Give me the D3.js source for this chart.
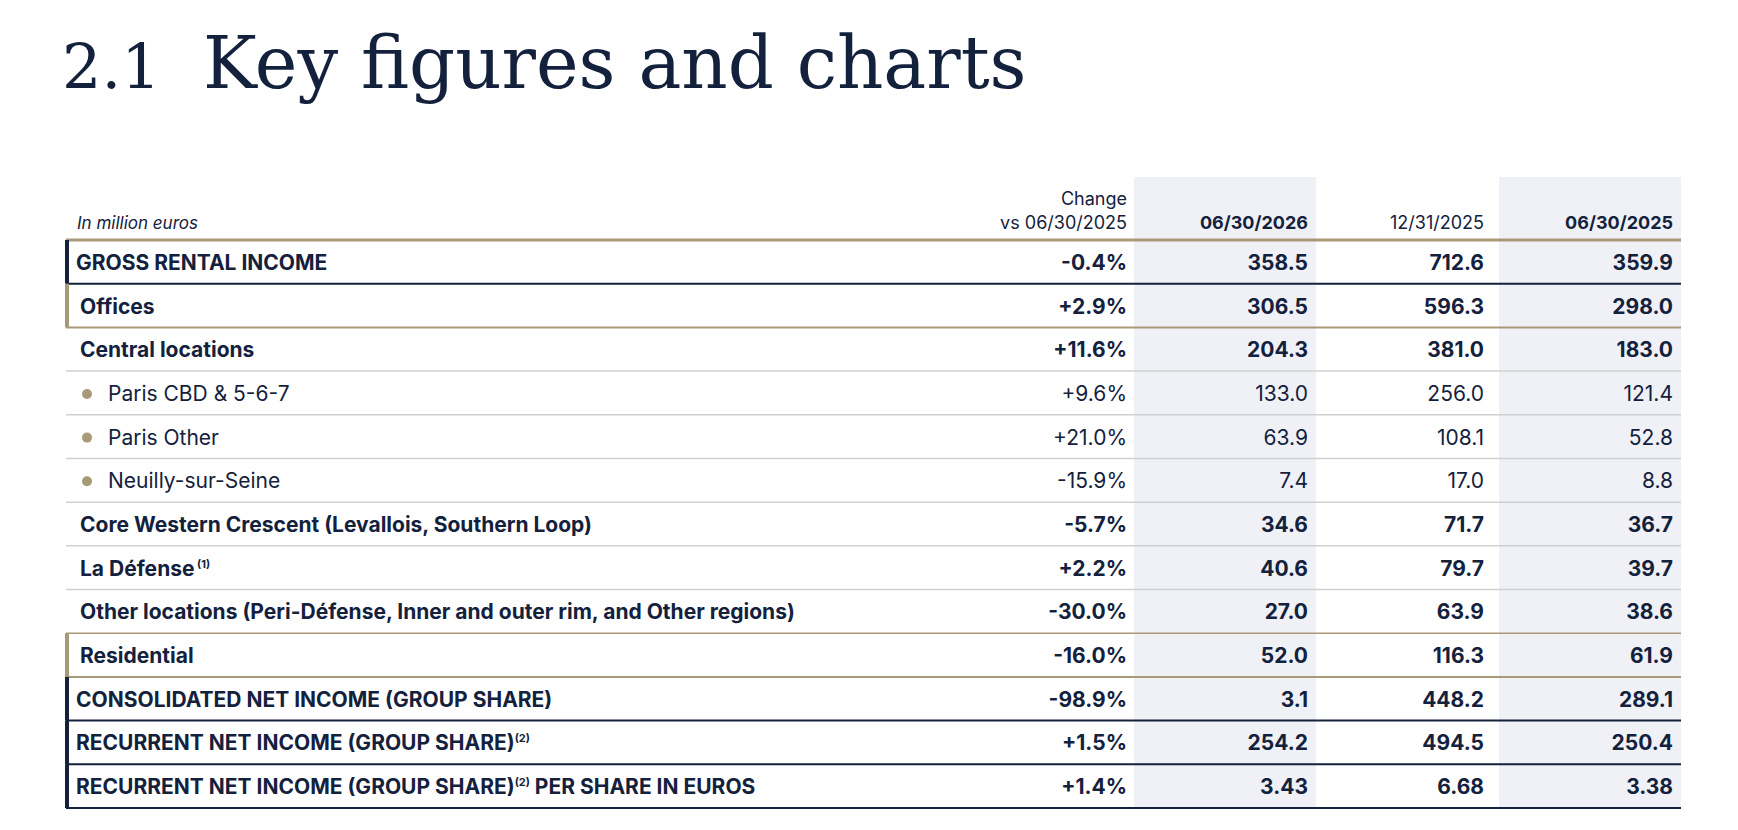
<!DOCTYPE html>
<html><head><meta charset="utf-8">
<script src="https://cdn.jsdelivr.net/npm/d3@7"></script>
<style>
body{margin:0;background:#fff}
text{font-family:Inter,"Open Sans",sans-serif;fill:#14213d}
</style></head><body>
<svg id="chart" width="1738" height="830"></svg>
<script>
const labels = ["GROSS RENTAL INCOME","Offices","Central locations","Paris CBD & 5-6-7","Paris Other","Neuilly-sur-Seine",
  "Core Western Crescent (Levallois, Southern Loop)","La Défense","Other locations (Peri-Défense, Inner and outer rim, and Other regions)",
  "Residential","CONSOLIDATED NET INCOME (GROUP SHARE)","RECURRENT NET INCOME (GROUP SHARE)","RECURRENT NET INCOME (GROUP SHARE)"];
const notes = ["","","","","","","","(1)","","","","(2)","(2)"];
const suffix = ["","","","","","","","","","","",""," PER SHARE IN EUROS"];
const kinds = ["total","segment","sub","item","item","item","sub","sub","sub","segment","total","total","total"];
const changes = ["-0.4%","+2.9%","+11.6%","+9.6%","+21.0%","-15.9%","-5.7%","+2.2%","-30.0%","-16.0%","-98.9%","+1.5%","+1.4%"];
const jun2026 = [358.5,306.5,204.3,133.0,63.9,7.4,34.6,40.6,27.0,52.0,3.1,254.2,3.43];
const dec2025 = [712.6,596.3,381.0,256.0,108.1,17.0,71.7,79.7,63.9,116.3,448.2,494.5,6.68];
const jun2025 = [359.9,298.0,183.0,121.4,52.8,8.8,36.7,39.7,38.6,61.9,289.1,250.4,3.38];
const columns = ["06/30/2026","12/31/2025","06/30/2025"];
const decimals = [1,1,1,1,1,1,1,1,1,1,1,1,2];

const navy="#14213d", gold="#a89a78", grey="#d0d0d0", shade="#eff1f6";
const svg=d3.select("#chart");
const L=66, R=1681, tableTop=240, tableBottom=808;
const y=d3.scaleBand().domain(d3.range(labels.length)).range([tableTop,tableBottom]);
const colEdges=[[1134,1316],[1316,1492],[1499,1681]];

// title
svg.append("text").attr("x",62).attr("y",88).style("font-family","'DejaVu Serif','Liberation Serif',serif")
  .style("font-size","62px").text("2.1");
svg.append("text").attr("x",203).attr("y",88).style("font-family","'DejaVu Serif','Liberation Serif',serif")
  .style("font-size","72px").text("Key figures and charts");

// shaded columns
[0,2].forEach(i=>svg.append("rect").attr("x",colEdges[i][0]).attr("y",177)
  .attr("width",colEdges[i][1]-colEdges[i][0]).attr("height",tableBottom-177).attr("fill",shade));

// header
svg.append("text").attr("x",77).attr("y",229).style("font-size","17px").style("font-style","italic").text("In million euros");
svg.append("text").attr("x",1127).attr("y",205).attr("text-anchor","end").style("font-size","18px").text("Change");
svg.append("text").attr("x",1127).attr("y",229).attr("text-anchor","end").style("font-size","18px").text("vs 06/30/2025");
columns.forEach((c,i)=>svg.append("text").attr("x",colEdges[i][1]-8).attr("y",229).attr("text-anchor","end")
  .style("font-size","18px").style("font-weight",i===1?400:700).text(c));
svg.append("line").attr("x1",L).attr("x2",R).attr("y1",tableTop).attr("y2",tableTop).attr("stroke",gold).attr("stroke-width",3);

const rows=svg.selectAll("g.row").data(labels).join("g").attr("class","row")
  .attr("transform",(d,i)=>`translate(0,${y(i)})`);
const h=y.bandwidth();

rows.each(function(d,i){
  const g=d3.select(this), k=kinds[i];
  const lineCol = k==="total"?navy : k==="segment"?gold : grey;
  const nextSeg = kinds[i+1]==="total" || kinds[i+1]==="segment";
  g.append("line").attr("x1",L).attr("x2",R).attr("y1",h).attr("y2",h)
    .attr("stroke", k==="sub"||k==="item" ? (nextSeg?gold:grey) : lineCol)
    .attr("stroke-width", k==="sub"||k==="item" ? 1.5 : 2);
  if(k==="total"||k==="segment")
    g.append("rect").attr("x",L-1).attr("y",0).attr("width",4).attr("height",h).attr("fill",lineCol);
  const bold = k!=="item";
  const fs = "21px";
  const tx = k==="total"?76 : k==="item"?108 : 80;
  if(k==="item") g.append("circle").attr("cx",87).attr("cy",h/2+1).attr("r",5).attr("fill",gold);
  const t=g.append("text").attr("x",tx).attr("y",h/2+8).style("font-size",fs).style("font-weight",bold?700:400);
  t.append("tspan").text(d);
  if(notes[i]) t.append("tspan").attr("dy",-8).style("font-size","11px").text((k==="sub"?" ":"")+notes[i]);
  if(suffix[i]) t.append("tspan").attr("dy",notes[i]?8:0).text(suffix[i]);
  const vals=[changes[i], jun2026[i].toFixed(decimals[i]), dec2025[i].toFixed(decimals[i]), jun2025[i].toFixed(decimals[i])];
  const xs=[1127, colEdges[0][1]-8, colEdges[1][1]-8, colEdges[2][1]-8];
  vals.forEach((v,j)=>g.append("text").attr("x",xs[j]).attr("y",h/2+8).attr("text-anchor","end")
    .style("font-size",fs).style("font-weight",bold?700:400).text(v));
});
</script></body></html>
